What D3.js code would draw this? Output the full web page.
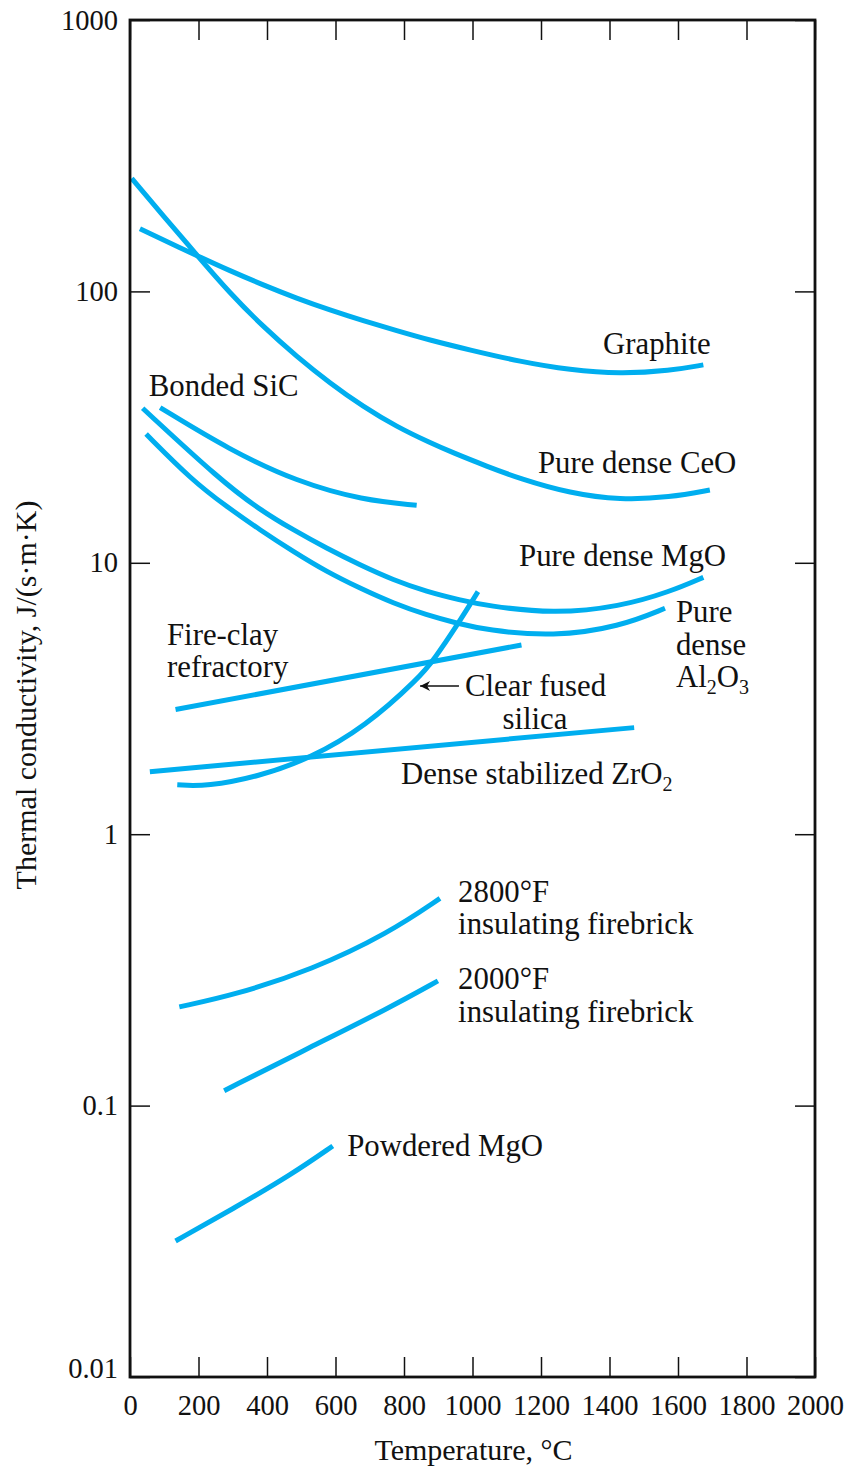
<!DOCTYPE html>
<html>
<head>
<meta charset="utf-8">
<script src="https://cdn.jsdelivr.net/npm/d3@7"></script>
<style>
  body { margin: 0; background: #fff; }
  svg text { font-family: "Liberation Serif", "DejaVu Serif", serif; fill: #111; }
</style>
</head>
<body>
<svg id="chart" width="848" height="1469"></svg>
<script>
// temperature (deg C) vs thermal conductivity J/(s.m.K)
const graphite = [[29, 170], [195, 135.5], [292, 119.1], [389, 105.6], [487, 94.3], [584, 85.4], [681, 78.0], [779, 71.7], [876, 66.1], [993, 60.8], [1139, 55.1], [1285, 51.3], [1431, 49.6], [1577, 51.0], [1674, 53.6]];
const ceo = [[5, 261], [97, 190], [195, 136.2], [292, 98.4], [389, 74.1], [487, 57.5], [584, 45.9], [681, 37.6], [779, 31.7], [876, 27.7], [944, 25.4], [1041, 22.7], [1139, 20.4], [1285, 18.03], [1431, 17.03], [1577, 17.43], [1693, 18.55]];
const sic = [[88, 37.3], [292, 26.0], [487, 19.9], [681, 17.0], [837, 16.3]];
const mgo = [[37, 37.1], [263, 20.2], [380, 15.65], [477, 13.21], [574, 11.31], [672, 9.81], [769, 8.64], [866, 7.83], [964, 7.29], [1041, 6.95], [1236, 6.48], [1431, 6.89], [1577, 7.83], [1674, 8.84]];
const al2o3 = [[47, 29.8], [180, 20.2], [282, 16.1], [380, 13.21], [477, 10.99], [574, 9.27], [672, 8.05], [769, 7.09], [866, 6.42], [954, 5.99], [1041, 5.65], [1236, 5.34], [1431, 5.82], [1562, 6.80]];
const fireClay = [[133, 2.88], [1143, 4.98]];
const zro2 = [[58, 1.70], [1472, 2.47]];
const silica = [[138, 1.52], [225, 1.50], [375, 1.63], [525, 1.90], [687, 2.49], [847, 3.80], [886, 4.38], [954, 5.86], [1016, 7.83]];
const brick2800 = [[144, 0.231], [307, 0.256], [530, 0.316], [754, 0.431], [905, 0.580]];
const brick2000 = [[275, 0.1135], [530, 0.165], [754, 0.228], [899, 0.288]];
const powderMgo = [[133, 0.0317], [307, 0.0421], [474, 0.0560], [592, 0.0710]];

const series = [graphite, ceo, sic, mgo, al2o3, fireClay, zro2, silica, brick2800, brick2000, powderMgo];

const xTicks = [0, 200, 400, 600, 800, 1000, 1200, 1400, 1600, 1800, 2000];
const yTicks = [0.01, 0.1, 1, 10, 100, 1000];
const yTickLabels = ["0.01", "0.1", "1", "10", "100", "1000"];

// curve labels: [lines, temperature, conductivity at first baseline]
const labels = [
  [["Graphite"], 1381, 58.8],
  [["Pure dense CeO"], 1191, 21.4],
  [["Bonded SiC"], 55, 41.2],
  [["Pure dense MgO"], 1136, 9.73],
  [["Pure", "dense", "Al_2O_3"], 1594, 6.05],
  [["Fire-clay", "refractory"], 108, 4.98],
  [["Clear fused", "silica"], 978, 3.23],
  [["Dense stabilized ZrO_2"], 791, 1.531],
  [["2800°F", "insulating firebrick"], 958, 0.5626],
  [["2000°F", "insulating firebrick"], 958, 0.2689],
  [["Powdered MgO"], 634, 0.0652]
];
// arrow to the silica curve: tip temperature
const arrowTip = 847;

const m = { left: 130, right: 815, top: 20, bottom: 1377 };

const svg = d3.select('#chart');

const x = d3.scaleLinear().domain([0, 2000]).range([m.left, m.right]);
const y = d3.scaleLog().domain([0.01, 1000]).range([m.bottom, m.top]);

// curves (B-spline smooths out reading noise)
const line = d3.line()
  .x(d => x(d[0]))
  .y(d => y(d[1]))
  .curve(d3.curveBasis);

svg.append('g')
  .selectAll('path')
  .data(series)
  .join('path')
  .attr('d', line)
  .attr('fill', 'none')
  .attr('stroke', '#00aeef')
  .attr('stroke-width', 5);

// axes: ticks inside the frame
const tickLen = 20;
const tickFont = 28.5;
svg.append('g')
  .attr('transform', `translate(0,${m.bottom})`)
  .call(d3.axisBottom(x).tickValues(xTicks).tickSize(-tickLen).tickPadding(18).tickFormat(d3.format('d')))
  .call(g => g.select('.domain').remove())
  .call(g => g.selectAll('line').attr('stroke', '#111').attr('stroke-width', 1.5))
  .call(g => g.selectAll('text').attr('font-size', tickFont).attr('dy', '0.7em').attr('font-family', '"Liberation Serif", serif'));

svg.append('g')
  .attr('transform', `translate(0,${m.top})`)
  .call(d3.axisTop(x).tickValues(xTicks).tickSize(-tickLen).tickFormat(''))
  .call(g => g.select('.domain').remove())
  .call(g => g.selectAll('line').attr('stroke', '#111').attr('stroke-width', 1.5));

svg.append('g')
  .attr('transform', `translate(${m.left},0)`)
  .call(d3.axisLeft(y).tickValues(yTicks).tickSize(-tickLen).tickPadding(12).tickFormat((d, i) => yTickLabels[i]))
  .call(g => g.select('.domain').remove())
  .call(g => g.selectAll('line').attr('stroke', '#111').attr('stroke-width', 1.5))
  .call(g => g.selectAll('text').attr('font-size', tickFont).attr('font-family', '"Liberation Serif", serif')
    .attr('dy', d => d === 0.01 ? '0em' : '0.32em'));

svg.append('g')
  .attr('transform', `translate(${m.right},0)`)
  .call(d3.axisRight(y).tickValues(yTicks).tickSize(-tickLen).tickFormat(''))
  .call(g => g.select('.domain').remove())
  .call(g => g.selectAll('line').attr('stroke', '#111').attr('stroke-width', 1.5));

// frame
svg.append('rect')
  .attr('x', m.left).attr('y', m.top)
  .attr('width', m.right - m.left).attr('height', m.bottom - m.top)
  .attr('fill', 'none').attr('stroke', '#111').attr('stroke-width', 2.8);

// axis titles
const titleFont = 30;
svg.append('text')
  .attr('x', (m.left + m.right) / 2 + 1).attr('y', 1460)
  .attr('text-anchor', 'middle').attr('font-size', titleFont)
  .text('Temperature, °C');

svg.append('text')
  .attr('transform', 'translate(36,695) rotate(-90)')
  .attr('text-anchor', 'middle').attr('font-size', titleFont)
  .text('Thermal conductivity, J/(s·m·K)');

// curve labels, "_" marks a subscript digit
const labelFont = 30.8;
const lineGap = 32.5;
const lab = svg.append('g').attr('font-size', labelFont);
labels.forEach(([lines, t, k]) => {
  const centred = lines[0] === 'Clear fused';
  lines.forEach((s, i) => {
    const tx = lab.append('text')
      .attr('x', x(t))
      .attr('y', y(k) + i * lineGap);
    if (centred && i > 0) {
      tx.attr('x', x(t) + 70).attr('text-anchor', 'middle');
    }
    let shift = 0;
    s.split(/(_\d)/).filter(p => p.length).forEach(p => {
      if (p[0] === '_') {
        tx.append('tspan').attr('font-size', 20).attr('dy', 7 - shift).text(p.slice(1));
        shift = 7;
      } else {
        const ts = tx.append('tspan').text(p);
        if (shift) { ts.attr('dy', -shift); shift = 0; }
      }
    });
  });
});

// arrow pointing at the silica curve
svg.append('defs').append('marker')
  .attr('id', 'head').attr('viewBox', '0 0 10 10')
  .attr('refX', 10).attr('refY', 5)
  .attr('markerWidth', 17).attr('markerHeight', 10)
  .attr('markerUnits', 'userSpaceOnUse')
  .attr('orient', 'auto')
  .append('path').attr('d', 'M0,0L10,5L0,10L3,5Z').attr('fill', '#111');

const clear = labels.find(d => d[0][0] === 'Clear fused');
svg.append('line')
  .attr('x1', x(clear[1]) - 6).attr('y1', y(clear[2]) - 10)
  .attr('x2', x(arrowTip)).attr('y2', y(clear[2]) - 10)
  .attr('stroke', '#111').attr('stroke-width', 1.5)
  .attr('marker-end', 'url(#head)');
</script>
</body>
</html>
